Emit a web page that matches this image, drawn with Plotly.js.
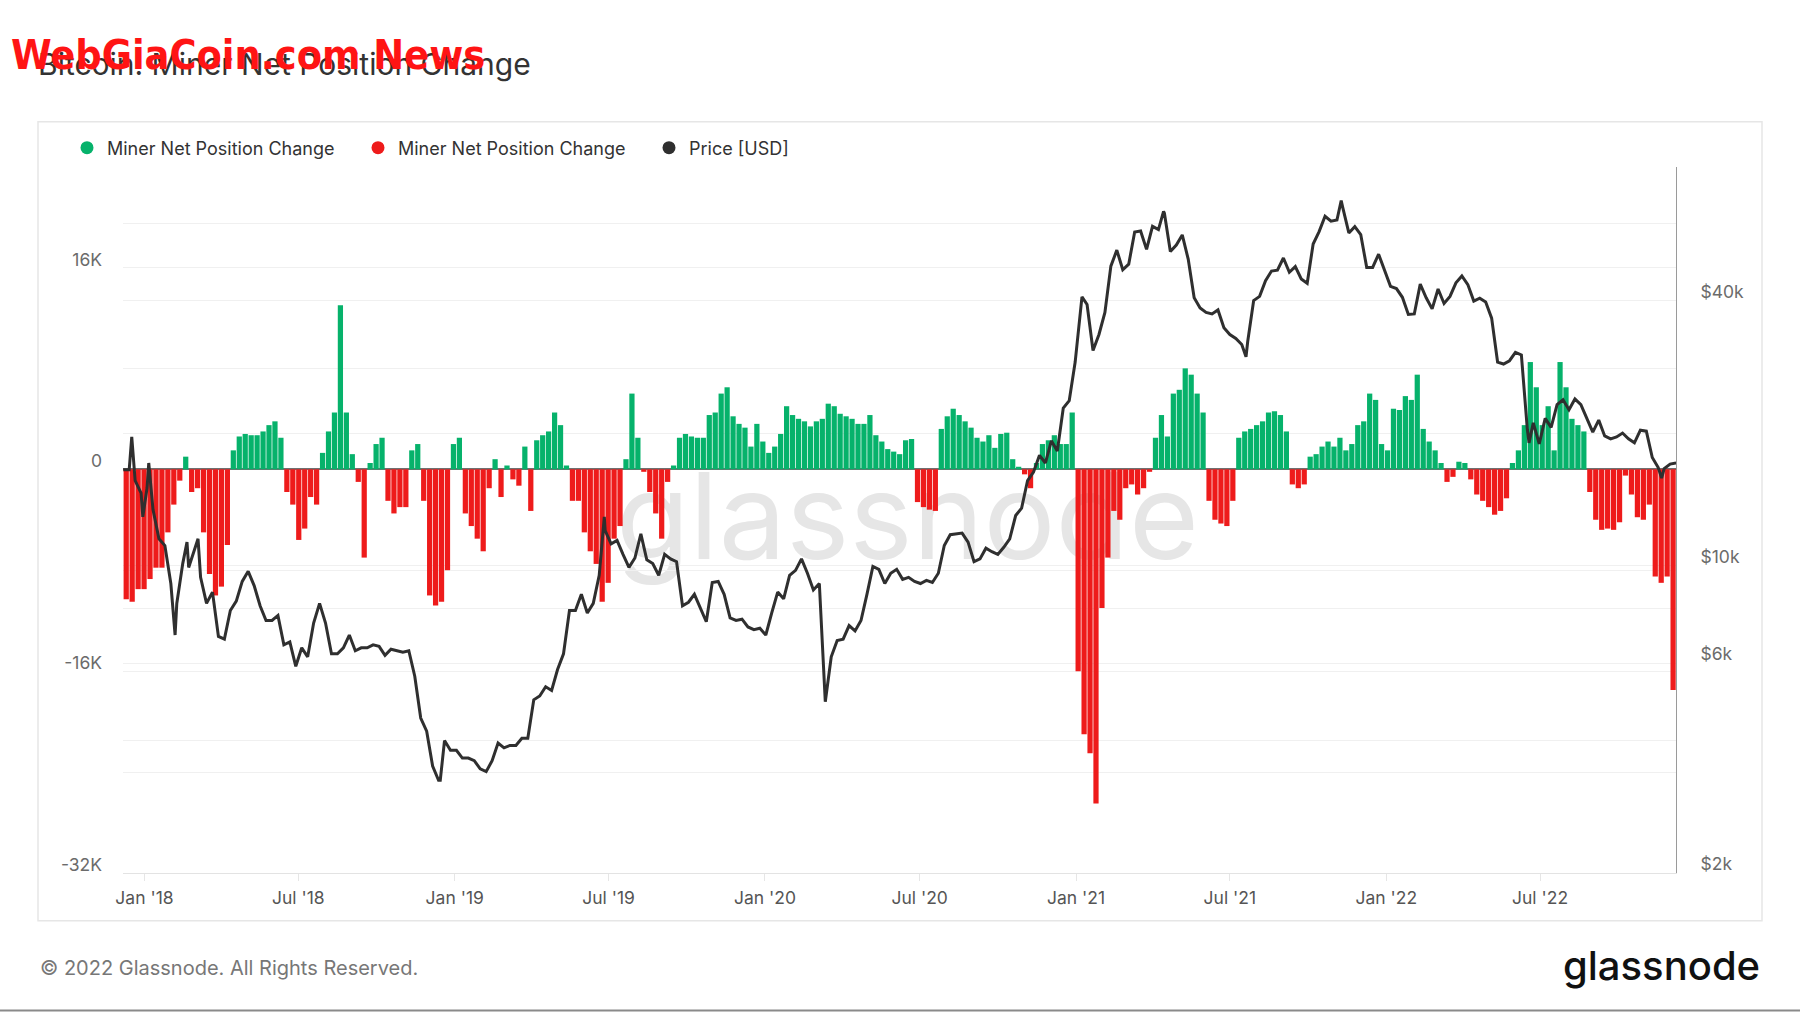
<!DOCTYPE html>
<html>
<head>
<meta charset="utf-8">
<script src="https://cdn.plot.ly/plotly-3.0.1.min.js"></script>
<style>
  html, body { margin: 0; padding: 0; background: #ffffff; }
  #chart { width: 1800px; height: 1013px; }
</style>
</head>
<body>
<div id="chart"></div>
<script>
// ---------------- DATA (weekly readings, week starting 2017-12-07) ----------------
const weekStart = '2017-12-07';

// Miner Net Position Change (BTC), one value per week
const netPositionChange = [
  -10300,-10500,-9500,-9500,-8700,-7800,-7800,-5000,-2800,-900,
  1000,-1800,-1500,-5000,-8300,-10000,-9300,-6000,1500,2600,
  2800,2700,2700,3000,3500,3800,2500,-1800,-2800,-5600,
  -4700,-2200,-2800,1300,3000,4500,13000,4500,1200,-1000,
  -7000,500,2000,2500,-2500,-3500,-3000,-3000,1500,2000,
  -2500,-10000,-10800,-10500,-8000,2000,2500,-3500,-4500,-5500,
  -6500,-1500,800,-2200,300,-800,-1300,1800,-3300,2300,
  2700,3000,4500,3500,300,-2500,-2500,-5000,-6500,-7500,
  -10500,-9000,-5500,-4500,800,6000,2500,-200,-1800,-3500,
  -5500,-1000,300,2500,2800,2600,2500,2500,4300,4500,
  6000,6500,4200,3600,3300,1800,3600,2200,1300,1800,
  2800,5000,4300,4000,3800,3400,3800,4000,5200,5000,
  4400,4200,4000,3600,3600,4300,2700,2200,1600,1400,
  1200,2300,2400,-2600,-3000,-3200,-3300,3200,4200,4800,
  4300,3800,3300,2500,2200,2700,1700,2800,2900,800,
  200,-400,-1500,500,2000,2300,2700,2000,2000,4500,
  -16000,-21000,-22500,-26500,-11000,-7000,-3300,-4000,-1500,-1200,
  -2000,-1500,-200,2500,4300,2600,6000,6300,8000,7500,
  6000,4500,-2500,-4000,-4300,-4500,-2500,2500,3000,3200,
  3500,3800,4500,4600,4300,3000,-1200,-1500,-1200,1000,
  1200,1800,2200,1800,2500,1500,2000,3500,3800,6000,
  5500,2000,1500,4800,4700,5800,5500,7500,3200,2200,
  1500,500,-1000,-600,600,500,-800,-2000,-2500,-3000,
  -3600,-3300,-2300,500,1500,3500,8500,6500,3500,5000,
  1500,8500,6500,4000,3500,3000,-1800,-4000,-4800,-4700,
  -4800,-4200,-500,-2000,-3800,-4000,-2800,-8500,-9000,-8500,
  -17500
];

// Price [USD], one value per week (same week grid)
const priceUSD = [
  16500,16500,15600,14600,15000,13400,11500,11100,9100,8200,
  10100,9900,10900,9400,8200,8700,6900,6800,7900,8300,
  9200,9700,9000,8100,7500,7500,7700,6600,6700,5900,
  6500,6200,7400,8200,7400,6300,6300,6500,6950,6400,
  6500,6500,6600,6550,6250,6450,6400,6350,6400,5600,
  4500,4200,3500,3250,4000,3800,3800,3650,3650,3600,
  3450,3400,3600,3950,3850,3900,3900,4050,4050,4950,
  5050,5300,5200,5800,6300,7900,7900,8600,7800,8200,
  9500,12000,11200,11400,10600,9900,10400,11800,10300,10100,
  9500,10600,10350,10200,8100,8250,8600,8000,7450,9150,
  9200,8600,7600,7500,7550,7250,7150,7200,6950,7800,
  8700,8400,9500,9750,10350,9600,8800,9100,4900,6200,
  6750,6800,7300,7100,7500,8600,9950,9800,9100,9600,
  9800,9300,9400,9200,9100,9250,9150,9600,11100,11750,
  11800,11850,11300,10200,10350,10950,10750,10600,11000,11500,
  12990,13500,15600,16300,17800,17100,19200,18200,22800,23700,
  29000,39400,39200,30800,33500,37600,47900,52100,47000,48400,
  57300,57600,52300,59000,58000,63200,51700,53500,56400,49700,
  40600,38500,37600,37300,38100,34700,33500,32800,31800,32300,
  40000,40900,44400,46700,46900,50000,46400,47800,44800,43800,
  53800,57400,62200,60600,61000,64900,57000,58900,56500,47600,
  47600,51000,47100,43100,42600,40700,37200,37300,43600,40600,
  38300,42500,39400,40900,43900,45500,43500,39900,40500,39700,
  36500,29000,28700,29200,30500,30100,20400,21100,18900,21600,
  20600,23200,23800,22600,23900,23200,21500,20100,21400,19700,
  19400,19600,20000,19400,19000,20300,20200,17600,16700,16600,
  17000,17100
];

// Intra-week price extremes
const priceExtremeDates = ['2017-12-17','2017-12-30','2018-01-06','2018-02-06','2018-02-20','2018-03-05',
  '2018-12-15','2019-06-26','2021-01-08','2021-04-14','2021-07-20','2021-11-09','2022-06-18','2022-11-21'];
const priceExtremeValues = [19600,12900,17100,6950,11300,11500,
  3250,12900,40800,63800,29800,67500,19000,15800];

// Axis ticks
const leftTickVals  = [-32000,-24000,-16000,-8000,0,8000,16000,24000];
const leftTickText  = ['-32K','','-16K','','0','','16K',''];
const rightTickVals = [2000,4000,6000,8000,10000,20000,40000,60000];
const rightTickText = ['$2k','','$6k','','$10k','','$40k',''];

// ---------------- BUILD ----------------
const DAY = 86400000;
const t0 = Date.parse(weekStart + 'T00:00:00Z');
function iso(ms) { return new Date(ms).toISOString().slice(0, 16).replace('T', ' '); }

const barX = netPositionChange.map((_, k) => iso(t0 + (7 * k + 3.5) * DAY));
const greenY = netPositionChange.map(v => v > 0 ? v : null);
const redY = netPositionChange.map(v => v < 0 ? v : null);

let pricePts = priceUSD.map((v, k) => [t0 + 7 * k * DAY, v]);
priceExtremeDates.forEach((d, i) => pricePts.push([Date.parse(d + 'T00:00:00Z'), priceExtremeValues[i]]));
pricePts.sort((a, b) => a[0] - b[0]);
const priceX = pricePts.map(p => iso(p[0]));
const priceY = pricePts.map(p => p[1]);

const GREEN = '#06b26b', RED = '#ee1b1b', DARK = '#2f2f2f';

const traces = [
  { type: 'bar', x: barX, y: greenY, marker: { color: GREEN, line: { width: 0 } }, yaxis: 'y', showlegend: false, name: 'Miner Net Position Change' },
  { type: 'bar', x: barX, y: redY, marker: { color: RED, line: { width: 0 } }, yaxis: 'y', showlegend: false, name: 'Miner Net Position Change' },
  { type: 'scatter', mode: 'lines', x: priceX, y: priceY, yaxis: 'y2', line: { color: DARK, width: 3 }, showlegend: false, name: 'Price [USD]' },
  // legend entries
  { type: 'scatter', mode: 'markers', x: [null], y: [null], name: 'Miner Net Position Change', marker: { color: GREEN, size: 13 } },
  { type: 'scatter', mode: 'markers', x: [null], y: [null], name: 'Miner Net Position Change', marker: { color: RED, size: 13 } },
  { type: 'scatter', mode: 'markers', x: [null], y: [null], name: 'Price [USD]', marker: { color: DARK, size: 13 } }
];

// plot area in pixels: x 123..1676, y 164..873
const PL = 123, PR = 1676, PT = 164, PB = 873;
const px = x => (x - PL) / (PR - PL);
const py = y => (PB - y) / (PB - PT);

const layout = {
  width: 1800, height: 1013,
  paper_bgcolor: '#ffffff', plot_bgcolor: '#ffffff',
  margin: { l: PL, r: 1800 - PR, t: PT, b: 1013 - PB, pad: 0 },
  font: { family: 'Inter, "Noto Sans", sans-serif', color: '#6b6b6b', size: 17.5 },
  title: {
    text: 'Bitcoin: Miner Net Position Change',
    font: { family: 'Inter, sans-serif', size: 30, color: '#333333' },
    xref: 'container', x: 38 / 1800, xanchor: 'left',
    yref: 'container', y: 1 - 64 / 1013, yanchor: 'middle'
  },
  showlegend: true,
  legend: {
    orientation: 'h', xref: 'container', x: 67 / 1800, xanchor: 'left',
    yref: 'container', y: 1 - 148 / 1013, yanchor: 'middle',
    font: { size: 18, color: '#333333' }, entrywidth: 246, entrywidthmode: 'pixels',
    bgcolor: 'rgba(0,0,0,0)'
  },
  bargap: 0.12,
  barmode: 'overlay',
  hovermode: false,
  xaxis: {
    type: 'date', range: ['2017-12-06 17:00', '2022-12-07 22:00'],
    showgrid: false, zeroline: false,
    tickformat: "%b '%y", dtick: 'M6', tick0: '2018-01-01',
    ticks: 'outside', ticklen: 7, tickcolor: '#e6e6e6',
    showline: true, linecolor: '#e3e3e3', linewidth: 1,
    tickfont: { size: 17.5, color: '#555555' }, ticklabelstandoff: 2
  },
  yaxis: {
    range: [-32000, 24000], tickvals: leftTickVals, ticktext: leftTickText,
    showgrid: true, gridcolor: '#f0f0f0', gridwidth: 1,
    zeroline: true, zerolinecolor: '#707070', zerolinewidth: 2,
    ticks: '', showline: false, ticklabelstandoff: 20, ticklabelshift: -8,
    tickfont: { size: 17.5, color: '#6b6b6b' }
  },
  yaxis2: {
    overlaying: 'y', side: 'right', type: 'log',
    range: [Math.log10(2000), 4.9069], tickvals: rightTickVals, ticktext: rightTickText,
    showgrid: true, gridcolor: '#f0f0f0', gridwidth: 1, zeroline: false,
    showline: true, linecolor: '#9a9a9a', linewidth: 1,
    ticks: '', ticklabelstandoff: 20, ticklabelshift: -9,
    tickfont: { size: 17.5, color: '#6b6b6b' }
  },
  shapes: [
    { type: 'rect', xref: 'paper', yref: 'paper', x0: px(38), x1: px(1762), y0: py(921), y1: py(119),
      line: { color: '#e6e6e6', width: 1.5 }, fillcolor: 'rgba(0,0,0,0)', layer: 'below' },
    { type: 'line', xref: 'paper', yref: 'paper', x0: px(0), x1: px(1800), y0: py(1011), y1: py(1011),
      line: { color: '#8a8a8a', width: 2 } },
    { type: 'rect', xref: 'paper', yref: 'paper', x0: px(615), x1: px(1200), y0: py(560), y1: py(460),
      line: { width: 0 }, fillcolor: 'rgba(0,0,0,0)', layer: 'below',
      label: { text: 'glassnode', textposition: 'middle center',
               font: { family: 'Inter, sans-serif', size: 120, color: '#e6e6e6' } } }
  ],
  annotations: [
    { text: '<b>WebGiaCoin.com News</b>', xref: 'paper', yref: 'paper', x: px(9), y: py(52),
      xanchor: 'left', yanchor: 'middle', showarrow: false,
      font: { family: '"Liberation Sans Narrow", "DejaVu Sans Condensed", "Arial Narrow", sans-serif', size: 41, color: '#ff1414' } },
    { text: '© 2022 Glassnode. All Rights Reserved.', xref: 'paper', yref: 'paper', x: px(38), y: py(968),
      xanchor: 'left', yanchor: 'middle', showarrow: false,
      font: { family: 'Inter, sans-serif', size: 20, color: '#777777' } },
    { text: 'glassnode', xref: 'paper', yref: 'paper', x: px(1762), y: py(966),
      xanchor: 'right', yanchor: 'middle', showarrow: false,
      font: { family: 'Inter, sans-serif', size: 40, color: '#111111', weight: 500 } }
  ]
};

Plotly.newPlot('chart', traces, layout, { displayModeBar: false, staticPlot: true });
</script>
</body>
</html>
